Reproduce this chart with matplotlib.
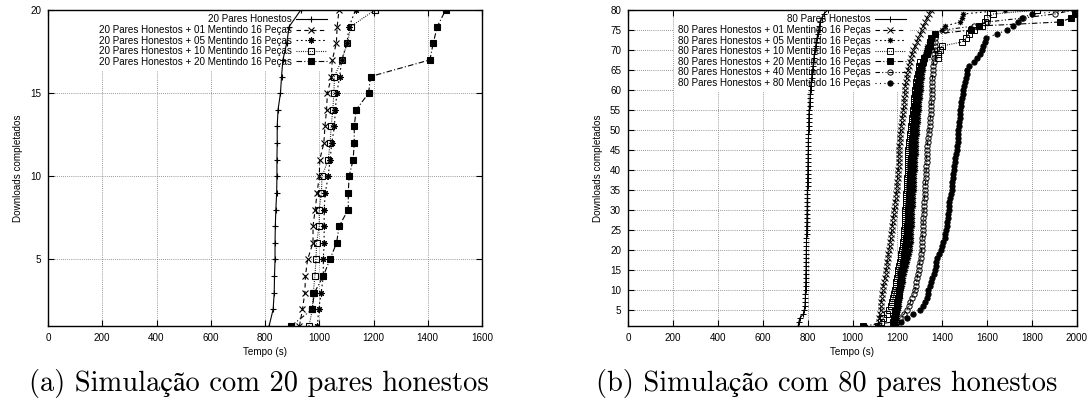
import matplotlib
matplotlib.use("Agg")
import matplotlib.pyplot as plt
import numpy as np

# ---------------- data: left panel (20 honest peers) ----------------
y20 = list(range(1, 21))
left_labels = [
    "20 Pares Honestos",
    "20 Pares Honestos + 01 Mentindo 16 Peças",
    "20 Pares Honestos + 05 Mentindo 16 Peças",
    "20 Pares Honestos + 10 Mentindo 16 Peças",
    "20 Pares Honestos + 20 Mentindo 16 Peças",
]
l_honest = [815, 830, 834, 835, 837, 837, 838, 840, 843, 844, 844, 845, 845, 848, 857, 861, 866, 880, 889, 932]
l_m01 = [927, 938, 947, 949, 957, 977, 977, 985, 992, 1000, 1002, 1017, 1021, 1027, 1030, 1045, 1048, 1063, 1066, 1073]
l_m05 = [993, 998, 1007, 1015, 1015, 1018, 1018, 1018, 1022, 1033, 1040, 1046, 1056, 1059, 1065, 1075, 1083, 1102, 1110, 1134]
l_m10 = [962, 975, 978, 984, 988, 990, 1000, 1000, 1008, 1010, 1033, 1040, 1044, 1050, 1054, 1056, 1083, 1104, 1116, 1205]
l_m20 = [896, 974, 982, 1015, 1039, 1064, 1073, 1107, 1107, 1110, 1125, 1129, 1129, 1136, 1182, 1189, 1408, 1420, 1435, 1466]

# ---------------- data: right panel (80 honest peers) ----------------
y80 = list(range(1, 81))
right_labels = [
    "80 Pares Honestos",
    "80 Pares Honestos + 01 Mentindo 16 Peças",
    "80 Pares Honestos + 05 Mentindo 16 Peças",
    "80 Pares Honestos + 10 Mentindo 16 Peças",
    "80 Pares Honestos + 20 Mentindo 16 Peças",
    "80 Pares Honestos + 40 Mentindo 16 Peças",
    "80 Pares Honestos + 80 Mentindo 16 Peças",
]
r_honest = [758, 761, 766, 781, 785, 788, 789, 790, 790, 791,
            791, 792, 792, 792, 793, 793, 793, 794, 794, 794,
            795, 795, 795, 796, 796, 796, 797, 797, 797, 798,
            798, 798, 799, 799, 799, 800, 800, 800, 801, 801,
            801, 802, 802, 802, 803, 803, 803, 804, 804, 805,
            805, 805, 806, 806, 808, 809, 810, 811, 812, 813,
            814, 816, 818, 820, 822, 824, 826, 828, 830, 833,
            836, 839, 842, 845, 849, 853, 857, 863, 872, 890]
r_m01 = [1110, 1116, 1119, 1122, 1125, 1127, 1129, 1131, 1133, 1135,
         1138, 1141, 1144, 1147, 1150, 1153, 1155, 1158, 1160, 1163,
         1165, 1168, 1170, 1173, 1175, 1177, 1179, 1182, 1184, 1186,
         1188, 1190, 1193, 1195, 1197, 1198, 1199, 1201, 1202, 1204,
         1205, 1206, 1206, 1207, 1208, 1209, 1211, 1212, 1213, 1215,
         1217, 1219, 1222, 1224, 1227, 1228, 1229, 1231, 1232, 1234,
         1236, 1238, 1241, 1244, 1248, 1250, 1254, 1259, 1265, 1271,
         1278, 1286, 1293, 1301, 1308, 1315, 1323, 1331, 1340, 1349]
r_m05 = [1190, 1195, 1198, 1200, 1202, 1205, 1207, 1210, 1212, 1215,
         1219, 1223, 1227, 1231, 1235, 1239, 1243, 1247, 1251, 1256,
         1257, 1259, 1260, 1261, 1262, 1263, 1264, 1265, 1266, 1267,
         1268, 1269, 1270, 1271, 1272, 1273, 1274, 1275, 1276, 1277,
         1278, 1279, 1280, 1281, 1282, 1283, 1284, 1285, 1287, 1288,
         1289, 1290, 1292, 1293, 1295, 1296, 1298, 1299, 1301, 1303,
         1305, 1307, 1309, 1311, 1313, 1316, 1319, 1322, 1325, 1329,
         1333, 1340, 1350, 1372, 1400, 1412, 1480, 1486, 1493, 1680]
r_m10 = [1114, 1128, 1137, 1155, 1162, 1172, 1178, 1182, 1186, 1189,
         1192, 1195, 1198, 1201, 1204, 1207, 1210, 1214, 1218, 1222,
         1224, 1226, 1228, 1229, 1230, 1232, 1233, 1234, 1235, 1236,
         1237, 1238, 1239, 1240, 1241, 1242, 1243, 1244, 1245, 1246,
         1246, 1247, 1247, 1248, 1249, 1251, 1253, 1255, 1257, 1259,
         1261, 1263, 1266, 1268, 1271, 1273, 1274, 1276, 1277, 1279,
         1282, 1285, 1288, 1291, 1294, 1297, 1301, 1380, 1383, 1388,
         1398, 1487, 1506, 1517, 1540, 1576, 1591, 1601, 1628, 1824]
r_m20 = [1045, 1180, 1186, 1190, 1193, 1196, 1199, 1202, 1205, 1208,
         1210, 1213, 1215, 1218, 1220, 1223, 1226, 1228, 1231, 1234,
         1236, 1238, 1240, 1241, 1243, 1244, 1245, 1247, 1248, 1249,
         1250, 1251, 1252, 1253, 1254, 1255, 1256, 1257, 1258, 1259,
         1260, 1261, 1262, 1263, 1264, 1265, 1266, 1267, 1268, 1270,
         1271, 1272, 1274, 1276, 1279, 1280, 1281, 1283, 1284, 1286,
         1288, 1291, 1294, 1297, 1301, 1306, 1313, 1320, 1330, 1338,
         1343, 1346, 1350, 1368, 1530, 1563, 1924, 1975, 1990, 1997]
r_m40 = [1190, 1200, 1212, 1230, 1242, 1252, 1258, 1264, 1272, 1279,
         1282, 1285, 1288, 1291, 1294, 1297, 1300, 1303, 1306, 1308,
         1309, 1310, 1311, 1312, 1313, 1314, 1315, 1316, 1317, 1318,
         1319, 1320, 1321, 1322, 1323, 1324, 1325, 1326, 1327, 1328,
         1329, 1330, 1330, 1331, 1331, 1333, 1335, 1337, 1339, 1341,
         1343, 1345, 1347, 1349, 1350, 1351, 1351, 1352, 1352, 1353,
         1354, 1355, 1356, 1357, 1358, 1359, 1361, 1363, 1365, 1366,
         1367, 1368, 1368, 1369, 1410, 1539, 1600, 1760, 1900, 1985]
r_m80 = [1195, 1215, 1242, 1271, 1301, 1315, 1325, 1331, 1335, 1338,
         1345, 1350, 1355, 1365, 1368, 1370, 1373, 1378, 1385, 1395,
         1400, 1405, 1410, 1413, 1418, 1420, 1422, 1424, 1426, 1428,
         1430, 1432, 1435, 1438, 1442, 1443, 1445, 1447, 1448, 1450,
         1452, 1455, 1458, 1461, 1465, 1466, 1468, 1469, 1471, 1472,
         1474, 1475, 1477, 1478, 1480, 1483, 1485, 1488, 1491, 1494,
         1497, 1501, 1504, 1508, 1512, 1521, 1540, 1554, 1569, 1575,
         1582, 1590, 1596, 1643, 1688, 1717, 1735, 1755, 1799, 1997]

captions = ["(a) Simulação com 20 pares honestos", "(b) Simulação com 80 pares honestos"]

# ---------------- styles (gnuplot monochrome look) ----------------
styles = [
    dict(ls="-", marker="+", mfc="black"),
    dict(ls=(0, (4, 3)), marker="x", mfc="black"),
    dict(ls=(0, (1.5, 2.5)), marker=(8, 2, 0), mfc="black"),
    dict(ls=(0, (0.8, 1.2)), marker="s", mfc="none"),
    dict(ls=(0, (5, 2, 1, 2)), marker="s", mfc="black"),
    dict(ls=(0, (4, 2, 1, 2, 1, 2)), marker="o", mfc="none"),
    dict(ls=(0, (1, 3)), marker="o", mfc="black"),
]

plt.rcParams["font.family"] = ["Liberation Sans", "DejaVu Sans"]
FS = 7.1

W, H = 1089, 404
fig = plt.figure(figsize=(W / 100, H / 100), dpi=100)


def px_axes(x0, x1, y0, y1):
    return fig.add_axes([x0 / W, 1 - y1 / H, (x1 - x0) / W, (y1 - y0) / H])


axL = px_axes(48, 482, 10, 326)
axR = px_axes(628, 1077, 10, 326)

def style_axes(ax, xmax, ymax, yticks):
    ax.set_xlim(0, xmax)
    ax.set_ylim(1, ymax)
    ax.set_xticks(np.arange(0, xmax + 1, 200))
    ax.set_yticks(yticks)
    ax.set_axisbelow(True)
    ax.grid(True, color="#777777", ls=(0, (1, 1.5)), lw=0.6)
    ax.tick_params(direction="in", top=True, right=True, length=4, width=0.8,
                   labelsize=FS, pad=5)
    for s in ax.spines.values():
        s.set_linewidth(1.0)
    ax.set_xlabel("Tempo (s)", fontsize=FS, labelpad=3)
    ax.set_ylabel("Downloads completados", fontsize=FS, labelpad=5)


def add_legend(ax, anchor_x):
    leg = ax.legend(loc="upper right", bbox_to_anchor=(anchor_x, 1.0), markerfirst=False,
                    frameon=True, fontsize=FS, handlelength=3.1, handletextpad=0.4,
                    labelspacing=0.06, borderpad=0.45, borderaxespad=0.0)
    leg.get_frame().set_edgecolor("none")
    leg.get_frame().set_facecolor("white")
    leg.get_frame().set_alpha(1)
    leg.set_zorder(1)
    return leg


# left
left_series = [l_honest, l_m01, l_m05, l_m10, l_m20]
for i, (xs, lab) in enumerate(zip(left_series, left_labels)):
    st = styles[i]
    axL.plot(xs, y20, color="black", lw=0.8, ls=st["ls"], marker=st["marker"],
             ms=4.5, mfc=st["mfc"], mec="black", mew=0.8, label=lab, zorder=3)
style_axes(axL, 1600, 20, [5, 10, 15, 20])
add_legend(axL, 0.652)

# right
right_series = [r_honest, r_m01, r_m05, r_m10, r_m20, r_m40, r_m80]
for i, (xs, lab) in enumerate(zip(right_series, right_labels)):
    st = styles[i]
    axR.plot(xs, y80, color="black", lw=0.8, ls=st["ls"], marker=st["marker"],
             ms=3.8, mfc=st["mfc"], mec="black", mew=0.7, label=lab, zorder=3)
style_axes(axR, 2000, 80, np.arange(5, 81, 5))
add_legend(axR, 0.628)

# captions
cap_family = ["cmr10", "STIXGeneral", "DejaVu Serif"]
fig.text(259 / W, 1 - 383 / H, captions[0], ha="center", va="center",
         fontsize=20.5, family=cap_family)
fig.text(827 / W, 1 - 383 / H, captions[1], ha="center", va="center",
         fontsize=20.5, family=cap_family)

fig.savefig("out.png", dpi=100)
